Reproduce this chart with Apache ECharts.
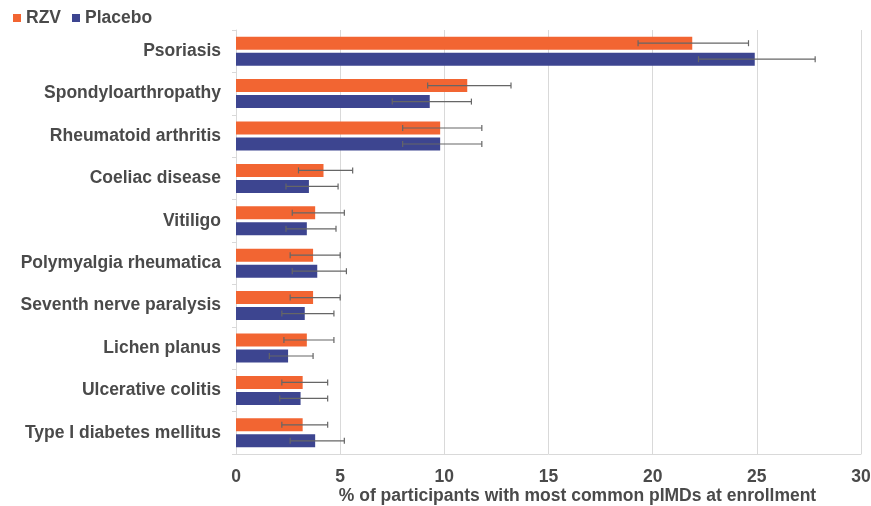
<!DOCTYPE html>
<html>
<head>
<meta charset="utf-8">
<script src="https://cdn.jsdelivr.net/npm/echarts@6/dist/echarts.min.js"></script>
<style>html,body{margin:0;padding:0;background:#fff}#c{width:871px;height:506px}</style>
</head>
<body>
<div id="c"></div>
<script>
const categories = ["Psoriasis","Spondyloarthropathy","Rheumatoid arthritis","Coeliac disease","Vitiligo","Polymyalgia rheumatica","Seventh nerve paralysis","Lichen planus","Ulcerative colitis","Type I diabetes mellitus"];
const rzvValues = [21.9, 11.1, 9.8, 4.2, 3.8, 3.7, 3.7, 3.4, 3.2, 3.2];
const rzvLow = [19.3, 9.2, 8.0, 3.0, 2.7, 2.6, 2.6, 2.3, 2.2, 2.2];
const rzvHigh = [24.6, 13.2, 11.8, 5.6, 5.2, 5.0, 5.0, 4.7, 4.4, 4.4];
const placeboValues = [24.9, 9.3, 9.8, 3.5, 3.4, 3.9, 3.3, 2.5, 3.1, 3.8];
const placeboLow = [22.2, 7.5, 8.0, 2.4, 2.4, 2.7, 2.2, 1.6, 2.1, 2.6];
const placeboHigh = [27.8, 11.3, 11.8, 4.9, 4.8, 5.3, 4.7, 3.7, 4.4, 5.2];
const xTicks = {min: 0, max: 30, interval: 5};

const ORANGE = '#F26532', BLUE = '#3D4590', ERR = '#666666', TXT = '#4a4a4a';
const BAR_W = 13, OFFSET = 8, CAP = 3, FS = 17.5;

function errSeries(name, low, high, dir) {
  return {
    type: 'custom', name: name + ' err', silent: true, z: 5,
    data: low.map((l, i) => [i, l, high[i]]),
    encode: {y: 0, x: [1, 2]},
    renderItem: function (params, api) {
      const ci = api.value(0);
      const a = api.coord([api.value(1), ci]);
      const b = api.coord([api.value(2), ci]);
      const y = a[1] + dir * OFFSET;
      const st = {stroke: ERR, lineWidth: 1.2};
      return {type: 'group', children: [
        {type: 'line', shape: {x1: a[0], y1: y, x2: b[0], y2: y}, style: st},
        {type: 'line', shape: {x1: a[0], y1: y - CAP, x2: a[0], y2: y + CAP}, style: st},
        {type: 'line', shape: {x1: b[0], y1: y - CAP, x2: b[0], y2: y + CAP}, style: st}
      ]};
    }
  };
}

const chart = echarts.init(document.getElementById('c'), null, {renderer: 'canvas'});
chart.setOption({
  animation: false,
  textStyle: {fontFamily: 'Liberation Sans, Arial, sans-serif'},
  legend: {
    data: ['RZV', 'Placebo'], left: 8, top: 4, itemWidth: 8, itemHeight: 8, itemGap: 11,
    icon: 'rect', textStyle: {fontSize: FS, fontWeight: 'bold', color: TXT}
  },
  grid: {left: 236, right: 10, top: 30, bottom: 52, containLabel: false, outerBoundsMode: 'none'},
  xAxis: {
    type: 'value', min: xTicks.min, max: xTicks.max, interval: xTicks.interval,
    axisLine: {show: true, lineStyle: {color: '#d9d9d9'}},
    axisTick: {show: false},
    splitLine: {show: true, lineStyle: {color: '#d9d9d9'}},
    axisLabel: {fontSize: FS, fontWeight: 'bold', color: TXT, margin: 14},
    name: '% of participants with most common pIMDs at enrollment',
    nameLocation: 'middle', nameGap: 33, nameMoveOverlap: false,
    nameTextStyle: {fontSize: FS, fontWeight: 'bold', color: TXT, padding: [0, 0, 0, 58]}
  },
  yAxis: {
    type: 'category', data: categories, inverse: true,
    axisLine: {show: true, lineStyle: {color: '#d9d9d9'}},
    axisTick: {show: true, length: 4, lineStyle: {color: '#d9d9d9'}},
    axisLabel: {fontSize: FS, fontWeight: 'bold', color: TXT, margin: 15, padding: [0, 0, 4, 0]}
  },
  series: [
    {name: 'RZV', type: 'bar', data: rzvValues, barWidth: BAR_W, barGap: '23%', itemStyle: {color: ORANGE}},
    {name: 'Placebo', type: 'bar', data: placeboValues, barWidth: BAR_W, barGap: '23%', itemStyle: {color: BLUE}},
    errSeries('RZV', rzvLow, rzvHigh, -1),
    errSeries('Placebo', placeboLow, placeboHigh, 1)
  ]
});
</script>
</body>
</html>
